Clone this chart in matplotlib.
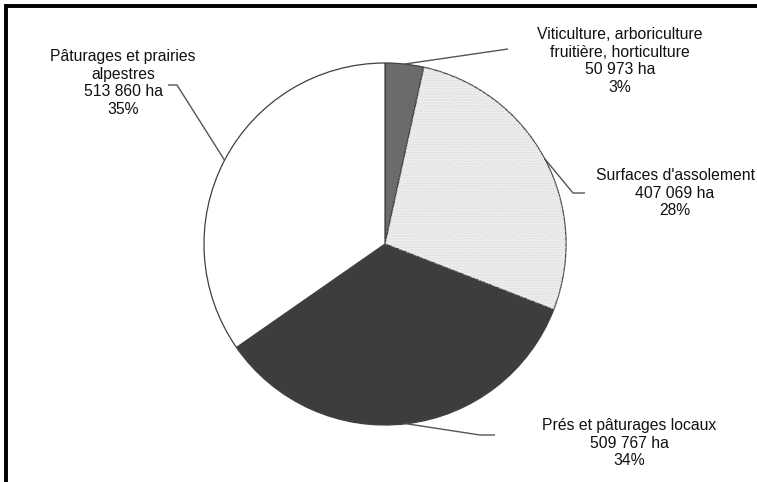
import matplotlib
matplotlib.use("Agg")
import matplotlib.pyplot as plt
from matplotlib.patches import Wedge
import numpy as np

plt.rcParams['font.family'] = ['Liberation Sans', 'DejaVu Sans']

# surfaces agricoles (ha)
categories = ["Viticulture, arboriculture\nfruitière, horticulture",
              "Surfaces d'assolement",
              "Prés et pâturages locaux",
              "Pâturages et prairies\nalpestres"]
surfaces = [50973, 407069, 509767, 513860]
surface_labels = ["50 973 ha", "407 069 ha", "509 767 ha", "513 860 ha"]
percent_labels = ["3%", "28%", "34%", "35%"]

slice_colors = ["#6b6b6b", "#f0f0f0", "#3d3d3d", "#ffffff"]

# label layout, in pixels (y down)
text_pos = [(620, 61), (675, 193), (629, 443), (123, 83)]
elbow_pts = [(508, 49), (573, 193), (480, 435), (177, 85)]
end_pts = [(508, 49), (585, 193), (495, 435), (168, 85)]

W, H = 757, 482
fig = plt.figure(figsize=(W / 100, H / 100), dpi=100)
ax = fig.add_axes([0, 0, 1, 1])

# y axis is inverted, so counterclock=True here turns clockwise on screen
wedges, _ = ax.pie(surfaces, colors=slice_colors, startangle=-90, counterclock=True,
                   center=(385, 244), radius=181, frame=True,
                   wedgeprops=dict(edgecolor="#404040", linewidth=0.9))
ax.set_xlim(0, W)
ax.set_ylim(H, 0)
ax.set_aspect("equal")
ax.axis("off")

# faint dotted texture on the light slice
w = wedges[1]
ax.add_patch(Wedge(w.center, w.r, w.theta1, w.theta2, facecolor="none",
                   edgecolor="#dcdcdc", linewidth=0, hatch="......"))

for i, w in enumerate(wedges):
    mid = np.deg2rad((w.theta1 + w.theta2) / 2)
    ax_x = w.center[0] + w.r * np.cos(mid)
    ax_y = w.center[1] + w.r * np.sin(mid)
    xs = [ax_x, elbow_pts[i][0], end_pts[i][0]]
    ys = [ax_y, elbow_pts[i][1], end_pts[i][1]]
    ax.plot(xs, ys, color="#555555", linewidth=1.0, solid_capstyle="butt")
    label = f"{categories[i]}\n{surface_labels[i]}\n{percent_labels[i]}"
    ax.text(text_pos[i][0], text_pos[i][1], label, ha="center", va="center",
            fontsize=11.3, linespacing=1.2, color="#111111")

# black frame on top and left only
ax.plot([5.5, W], [5.5, 5.5], color="black", linewidth=2.8, solid_capstyle="butt")
ax.plot([5.5, 5.5], [4, H], color="black", linewidth=2.8, solid_capstyle="butt")

fig.savefig("out.png", dpi=100)
